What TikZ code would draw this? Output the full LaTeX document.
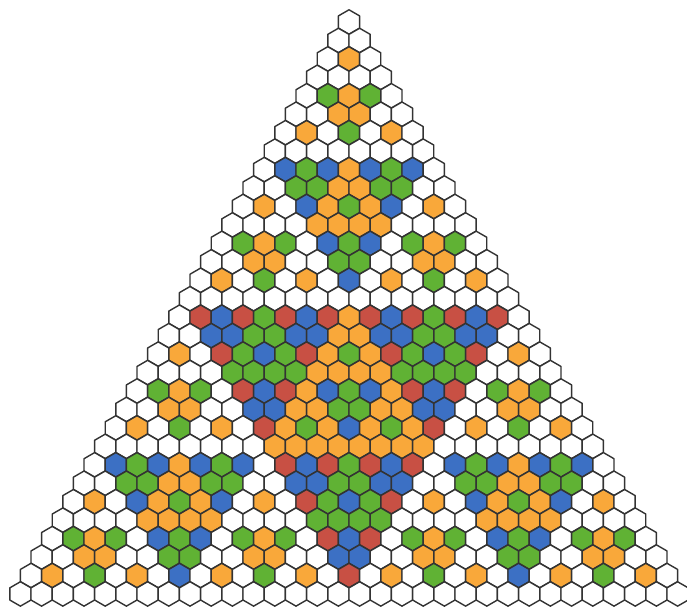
\documentclass[tikz,border=0pt]{standalone}
\usepackage{tikz}
\definecolor{hexorange}{RGB}{249,168,58}
\definecolor{hexgreen}{RGB}{96,178,52}
\definecolor{hexblue}{RGB}{60,112,196}
\definecolor{hexred}{RGB}{200,80,68}
\tikzset{hexcell/.style={draw=black!80, line width=1.4pt, line join=round}}

\begin{document}
\begin{tikzpicture}[x=1pt, y=1pt]
  \useasboundingbox (0,0) rectangle (687,609);
  % rows of the triangle, coloured by the power of 2 dividing the entry
  \foreach \n in {0,...,31} {
    \foreach \k in {0,...,\n} {
      \pgfmathtruncatemacro{\v}{floor(\n/2)-floor(\k/2)-floor((\n-\k)/2)
        +floor(\n/4)-floor(\k/4)-floor((\n-\k)/4)
        +floor(\n/8)-floor(\k/8)-floor((\n-\k)/8)
        +floor(\n/16)-floor(\k/16)-floor((\n-\k)/16)}
      \ifcase\v \def\hexfill{white}\or \def\hexfill{hexorange}\or \def\hexfill{hexgreen}\or \def\hexfill{hexblue}\else \def\hexfill{hexred}\fi
      \pgfmathsetmacro{\hx}{349+(\k-\n/2)*21.2}
      \pgfmathsetmacro{\hy}{587-\n*18.45}
      \draw[hexcell, fill=\hexfill] (\hx,\hy) +(90:12.2) -- +(150:12.2) -- +(210:12.2)
        -- +(270:12.2) -- +(330:12.2) -- +(30:12.2) -- cycle;
    }
  }
\end{tikzpicture}
\end{document}
